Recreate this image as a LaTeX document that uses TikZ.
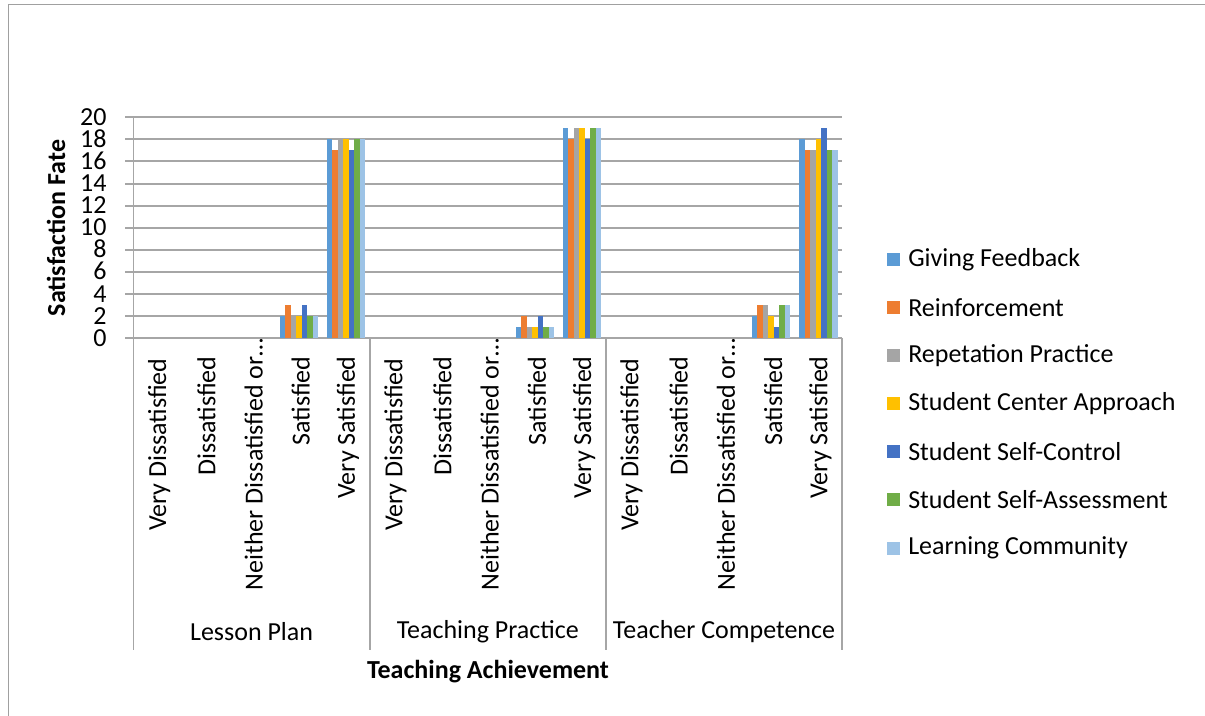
\documentclass[tikz,border=0pt]{standalone}
\usepackage{fontspec}
\setmainfont{Carlito}
\usetikzlibrary{positioning}
\definecolor{ser0}{HTML}{5B9BD5}
\definecolor{ser1}{HTML}{ED7D31}
\definecolor{ser2}{HTML}{A5A5A5}
\definecolor{ser3}{HTML}{FFC000}
\definecolor{ser4}{HTML}{4472C4}
\definecolor{ser5}{HTML}{70AD47}
\definecolor{ser6}{HTML}{9DC3E6}
\definecolor{gridgray}{HTML}{A6A6A6}
\definecolor{framegray}{HTML}{A0A0A0}
\newcommand{\chartfont}{\fontsize{13}{15}\selectfont}
\tikzstyle{gridline} = [draw=gridgray, line width=1pt]
\tikzstyle{sepline} = [draw=gridgray, line width=0.6pt]
\tikzstyle{ticklabel} = [anchor=east, inner sep=0pt, text height=8pt, text depth=0pt, font=\chartfont]
\tikzstyle{catlabel} = [rotate=90, anchor=east, inner sep=0pt, font=\chartfont]
\tikzstyle{grouplabel} = [inner sep=0pt, font=\chartfont]
\tikzstyle{axistitle} = [inner sep=0pt, font=\chartfont\bfseries]
\tikzstyle{key} = [rectangle, minimum size=6.5pt, inner sep=0pt]
\tikzstyle{keytext} = [anchor=west, inner sep=0pt, font=\chartfont]
\begin{document}
\begin{tikzpicture}[x=0.5pt, y=-0.5pt, node distance=24pt]
\useasboundingbox (0,0) rectangle (1205,716);
% chart frame
\draw [framegray, line width=0.5pt] (8,716) -- (8,5) -- (1205,5);
% gridlines and value labels
\foreach \v in {0,2,...,20} {
  \draw [gridline] (125,{338.3-11.05*\v}) -- (842,{338.3-11.05*\v});
  \node (tick\v) [ticklabel] at (107,{338.3-11.05*\v}) {\v};
}
\draw [sepline] (133.5,117.3) -- (133.5,650);
\foreach \x in {370,606,842} \draw [sepline] (\x,338.3) -- (\x,650);
% bars: group / Satisfied values / Very Satisfied values
\foreach \g/\sat/\vsat in {0/{2,3,2,2,3,2,2}/{18,17,18,18,17,18,18},
                            1/{1,2,1,1,2,1,1}/{19,18,19,19,18,19,19},
                            2/{2,3,3,2,1,3,3}/{18,17,17,18,19,17,17}} {
  \foreach \v [count=\s from 0] in \sat
    \fill [ser\s] ({133.5+236.2*\g+47.23*3.5-19.25+5.5*\s},338.3) rectangle ++(5.5,{-11.05*\v});
  \foreach \v [count=\s from 0] in \vsat
    \fill [ser\s] ({133.5+236.2*\g+47.23*4.5-19.25+5.5*\s},338.3) rectangle ++(5.5,{-11.05*\v});
}
% category labels
\foreach \g/\grp in {0/Lesson Plan, 1/Teaching Practice, 2/Teacher Competence} {
  \node (vd\g) [catlabel] at ({133.5+236.2*\g+47.23*0.5+2},358) {Very Dissatisfied};
  \node (ds\g) [catlabel] at ({133.5+236.2*\g+47.23*1.5+2},356) {Dissatisfied};
  \node (nd\g) [catlabel] at ({133.5+236.2*\g+47.23*2.5+2},338) {Neither Dissatisfied or…};
  \node (st\g) [catlabel] at ({133.5+236.2*\g+47.23*3.5+2},356) {Satisfied};
  \node (vs\g) [catlabel] at ({133.5+236.2*\g+47.23*4.5+2},356) {Very Satisfied};
  \node (grp\g) [grouplabel] at ({133.5+236.2*\g+118.1},632) {\grp};
}
\node (xtitle) [axistitle] at (488,672) {Teaching Achievement};
\node (ytitle) [axistitle, rotate=90] at (56,228) {Satisfaction Fate};
% legend
\node (key0) [key, fill=ser0] at (893,260) {};
\node (key1) [key, fill=ser1, on grid, below=of key0] {};
\node (key2) [key, fill=ser2, on grid, below=of key1] {};
\node (key3) [key, fill=ser3, on grid, below=of key2] {};
\node (key4) [key, fill=ser4, on grid, below=of key3] {};
\node (key5) [key, fill=ser5, on grid, below=of key4] {};
\node (key6) [key, fill=ser6, on grid, below=of key5] {};
\node (lab0) [keytext, right=4pt of key0.east] {Giving Feedback};
\node (lab1) [keytext, right=4pt of key1.east] {Reinforcement};
\node (lab2) [keytext, right=4pt of key2.east] {Repetation Practice};
\node (lab3) [keytext, right=4pt of key3.east] {Student Center Approach};
\node (lab4) [keytext, right=4pt of key4.east] {Student Self-Control};
\node (lab5) [keytext, right=4pt of key5.east] {Student Self-Assessment};
\node (lab6) [keytext, right=4pt of key6.east] {Learning Community};
\end{tikzpicture}
\end{document}
